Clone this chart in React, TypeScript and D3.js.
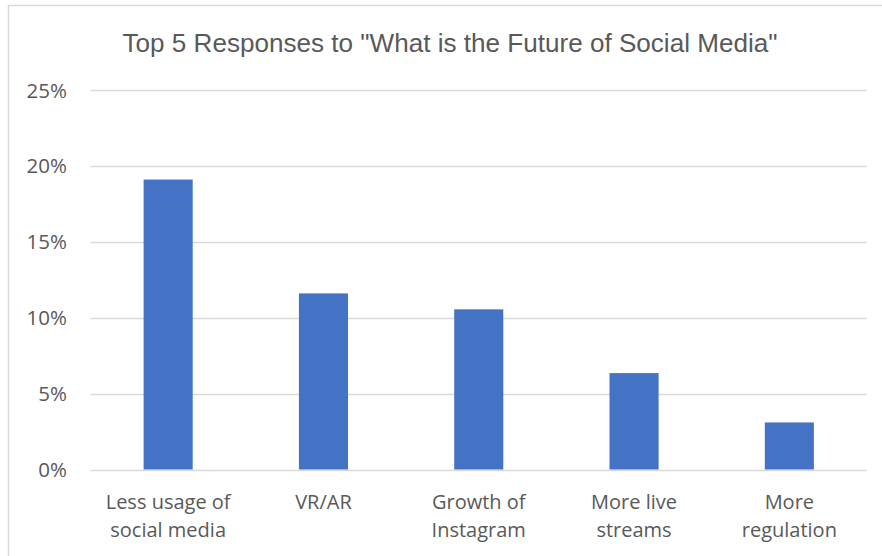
import React from "react";
import * as d3 from "d3";

const categories = [
  ["Less usage of", "social media"],
  ["VR/AR"],
  ["Growth of", "Instagram"],
  ["More live", "streams"],
  ["More", "regulation"],
];
const values = [0.191, 0.116, 0.1055, 0.0635, 0.031];
const yTicks = [0, 0.05, 0.1, 0.15, 0.2, 0.25];
const title = 'Top 5 Responses to "What is the Future of Social Media"';

export default function App() {
  const W = 882, H = 556;
  const left = 90.5, right = 867, top = 90, bottom = 469.5;
  const x = d3.scaleBand<number>().domain(d3.range(values.length)).range([left, right]).paddingInner(0.684).paddingOuter(0.342);
  const y = d3.scaleLinear().domain([0, 0.25]).range([bottom, top]);
  const font = "'Open Sans', 'Noto Sans', sans-serif";
  return (
    <svg width={W} height={H} style={{ position: "absolute", left: 0, top: 0, background: "#fff" }}>
      <rect x={8.5} y={5.5} width={W + 20} height={H + 20} fill="#fff" stroke="#d9d9d9" strokeWidth={1.5} />
      <text x={450} y={52} textAnchor="middle" fontFamily="'Liberation Sans Narrow', 'Liberation Sans', sans-serif" fontSize={25} fill="#595959" textLength={655} lengthAdjust="spacingAndGlyphs">{title}</text>
      {yTicks.map((t) => (
        <g key={t}>
          <line x1={left} x2={right} y1={Math.round(y(t)) + 0.5} y2={Math.round(y(t)) + 0.5} stroke="#d9d9d9" strokeWidth={1.3} />
          <text x={67} y={y(t) + 7.5} textAnchor="end" fontFamily={font} fontSize={20.5} fill="#595959">{d3.format(".0%")(t)}</text>
        </g>
      ))}
      {values.map((v, i) => (
        <rect key={i} x={x(i)} y={y(v)} width={x.bandwidth()} height={y(0) - y(v)} fill="#4472c4" />
      ))}
      {categories.map((lines, i) => (
        <text key={i} textAnchor="middle" fontFamily={font} fontSize={20} fill="#595959">
          {lines.map((l, j) => (
            <tspan key={j} x={(x(i) as number) + x.bandwidth() / 2} y={509 + j * 28}>{l}</tspan>
          ))}
        </text>
      ))}
    </svg>
  );
}
